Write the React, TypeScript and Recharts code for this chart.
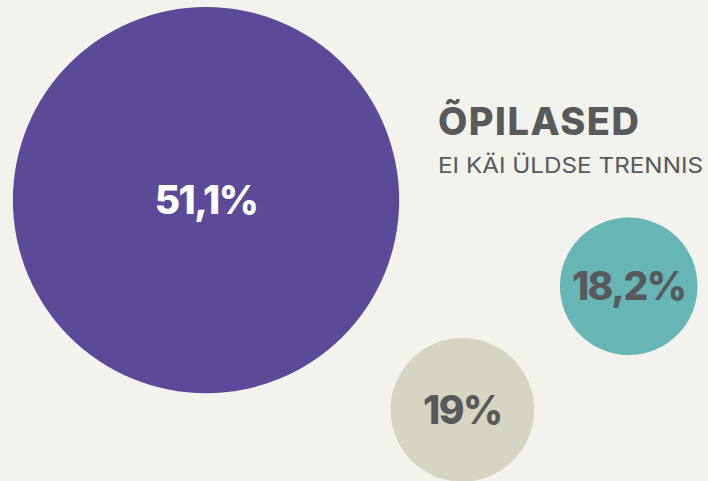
import { ScatterChart, Scatter, XAxis, YAxis, ZAxis, Cell } from 'recharts';

// share of students (%) that do not go to training at all
const groups = ['51,1%', '18,2%', '19%'];
const shares = [51.1, 18.2, 19];
// bubble placement on a 0–100 grid
const bubbleX = [29.1, 88.8, 65.3];
const bubbleY = [58.4, 40.5, 14.8];
const colors = ['#5b4a97', '#65b6b4', '#d6d5c1'];
const labelColors = ['#ffffff', '#58595b', '#58595b'];

const data = shares.map((v, i) => ({
  name: groups[i],
  x: bubbleX[i],
  y: bubbleY[i],
  value: v,
}));

const W = 708;
const H = 481;
const FONT = 'Inter, "Open Sans", sans-serif';

// radius grows with the value (z scale output is used as radius)
const Bubble = (props: any) => {
  const { cx, cy, size, fill, index, payload } = props;
  return (
    <g>
      <circle cx={cx} cy={cy} r={size} fill={fill} />
      <text
        x={cx}
        y={cy}
        dy="0.36em"
        textAnchor="middle"
        fontFamily={FONT}
        fontWeight={800}
        fontSize={39}
        letterSpacing={-1.5}
        fill={labelColors[index]}
      >
        {payload.name}
      </text>
    </g>
  );
};

export default function App() {
  return (
    <div style={{ position: 'absolute', left: 0, top: 0, width: W, height: H, background: '#f3f3ee', overflow: 'hidden' }}>
      <ScatterChart width={W} height={H} margin={{ top: 0, right: 0, bottom: 0, left: 0 }}>
        <XAxis type="number" dataKey="x" domain={[0, 100]} hide />
        <YAxis type="number" dataKey="y" domain={[0, 100]} hide />
        <ZAxis type="number" dataKey="value" domain={[0, 100]} range={[0, 378]} />
        <Scatter data={data} shape={<Bubble />} isAnimationActive={false}>
          {data.map((d, i) => (
            <Cell key={d.name} fill={colors[i]} />
          ))}
        </Scatter>
      </ScatterChart>
      <svg width={W} height={H} style={{ position: 'absolute', left: 0, top: 0, pointerEvents: 'none' }}>
        <text x={438} y={135} fontFamily={FONT} fontWeight={800} fontSize={38} textLength={201} lengthAdjust="spacing" fill="#58595b">
          ÕPILASED
        </text>
        <text x={438} y={173} fontFamily={FONT} fontWeight={400} fontSize={21.5} textLength={265} lengthAdjust="spacingAndGlyphs" fill="#58595b">
          EI KÄI ÜLDSE TRENNIS
        </text>
      </svg>
    </div>
  );
}
